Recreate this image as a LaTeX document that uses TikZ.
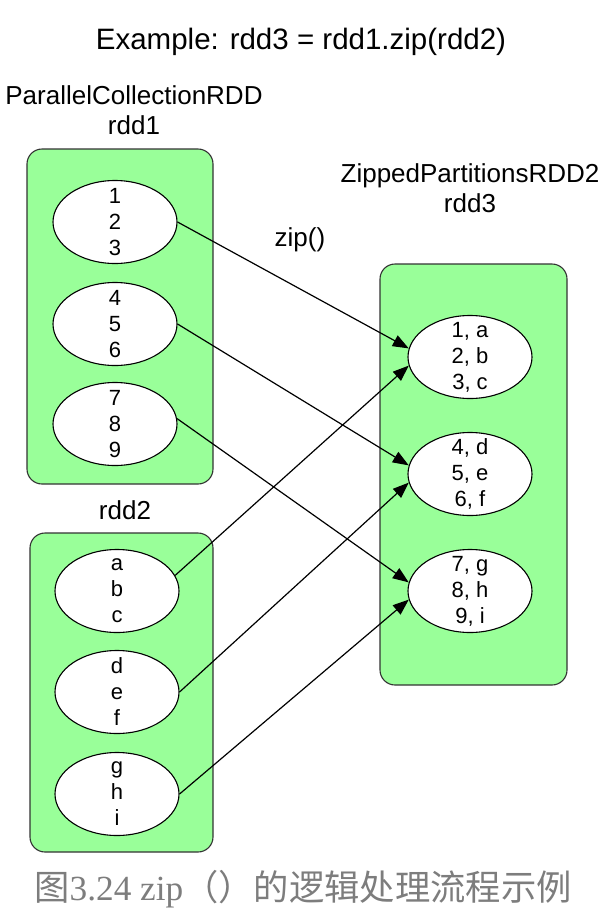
\documentclass[tikz,border=0pt]{standalone}
\usepackage{fontspec}
\setmainfont{Liberation Sans}
\newfontfamily\cjk{Noto Sans CJK SC}
\newfontfamily\capserif{Liberation Serif}
\usetikzlibrary{shapes.geometric,arrows.meta,positioning}
\definecolor{rddgreen}{RGB}{153,255,153}
\definecolor{capgray}{RGB}{125,125,125}

\begin{document}
\begin{tikzpicture}[x=1pt, y=-1pt,
    rddbox/.style={draw=black!80, fill=rddgreen, line width=1.1pt, rounded corners=15pt},
    part/.style={draw, fill=white, ellipse, line width=1.1pt, minimum width=124pt, minimum height=83pt, inner sep=0pt},
    parttext/.style={align=center, font=\fontsize{22}{26}\selectfont},
    title/.style={align=center, font=\fontsize{26}{30}\selectfont},
    zipline/.style={-{Triangle[length=16pt,width=12pt]}, line width=1.2pt}]
    \useasboundingbox (0,0) rectangle (608,919);

    \node[title, font=\fontsize{29.5}{32}\selectfont] (ex) at (301,42) {Example: rdd3 = rdd1.zip(rdd2)};

    % the three RDDs
    \node[rddbox, minimum width=186pt, minimum height=335pt] (box1) at (120,316.5) {};
    \node[rddbox, minimum width=183pt, minimum height=319pt] (box2) at (121.5,692.5) {};
    \node[rddbox, minimum width=187pt, minimum height=421pt] (box3) at (473.5,474.5) {};

    \node[title] (name1) at (134,110) {ParallelCollectionRDD\\rdd1};
    \node[title] (name2) at (125,510) {rdd2};
    \node[title] (name3) at (470,188) {ZippedPartitionsRDD2\\rdd3};
    \node[title] (zipop) at (300,240) {zip()};

    % partitions
    \node[part, label={[parttext]center:{1\\2\\3}}] (p1) at (115,222) {};
    \node[part, label={[parttext]center:{4\\5\\6}}] (p2) at (115,324) {};
    \node[part, label={[parttext]center:{7\\8\\9}}] (p3) at (115,424) {};

    \node[part, label={[parttext]center:{a\\b\\c}}] (pa) at (117,591) {};
    \node[part, label={[parttext]center:{d\\e\\f}}] (pd) at (117,692) {};
    \node[part, label={[parttext]center:{g\\h\\i}}] (pg) at (117,794) {};

    \node[part, label={[parttext]center:{1, a\\2, b\\3, c}}] (z1) at (470,357) {};
    \node[part, label={[parttext]center:{4, d\\5, e\\6, f}}] (z2) at (470,474) {};
    \node[part, label={[parttext]center:{7, g\\8, h\\9, i}}] (z3) at (470,591) {};

    \draw[zipline] (p1.east) -- (z1.172);
    \draw[zipline] (p2.east) -- (z2.172);
    \draw[zipline] (p3.5) -- (z3.172);
    \draw[zipline] (pa.15) -- (z1.188);
    \draw[zipline] (pd.east) -- (z2.188);
    \draw[zipline] (pg.east) -- (z3.188);

    \node[text=capgray, font=\fontsize{35.3}{40}\selectfont] (cap) at (303,889)
        {\cjk 图\capserif 3.24 zip\cjk （）的逻辑处理流程示例};
\end{tikzpicture}
\end{document}
